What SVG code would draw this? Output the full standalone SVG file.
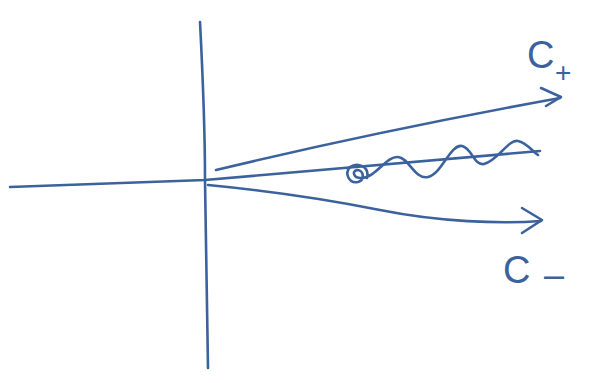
<svg xmlns="http://www.w3.org/2000/svg" width="589" height="383" viewBox="0 0 589 383">
<style>
.s{fill:none;stroke:#3b629c;stroke-width:2.6;stroke-linecap:round;stroke-linejoin:round}
.t{fill:#3b629c;font-family:"Liberation Sans",Arial,sans-serif}
</style>
<rect width="589" height="383" fill="#fff"/>
<g id="axes">
<path class="s" d="M200,22 C203,80 205,140 205,180 C206,250 207,310 208,368"/>
<path class="s" d="M10,187 L205,180 L540,151"/>
</g>
<g id="connectors">
<path id="cplus" class="s" d="M216,170 C320,145 450,118 560,98"/>
<path class="s" d="M541,88 L561,97 L546,106"/>
<path id="cminus" class="s" d="M208,185 C260,190 320,198 380,210 C440,222 500,224 541,221"/>
<path class="s" d="M522,208 L542,220 L522,233"/>
</g>
<g id="wiggle">
<path class="s" d="M367,178 C370,166 357,162 350,167 C344,173 349,184 358,182 C365,180 364,170 357,170 C352,171 353,178 361,178 C376,178 386,156 398,157 C409,158 415,180 428,177 C442,174 450,144 462,146 C472,148 474,166 484,164 C498,161 508,139 518,141 C527,143 532,151 538,155"/>
</g>
<g id="label-cplus">
<text class="t" x="527" y="68" font-size="38">C</text>
<text class="t" x="555" y="82" font-size="28">+</text>
</g>
<g id="label-cminus">
<text class="t" x="503" y="283" font-size="38">C</text>
<text class="t" x="544" y="287" font-size="36">–</text>
</g>
</svg>
